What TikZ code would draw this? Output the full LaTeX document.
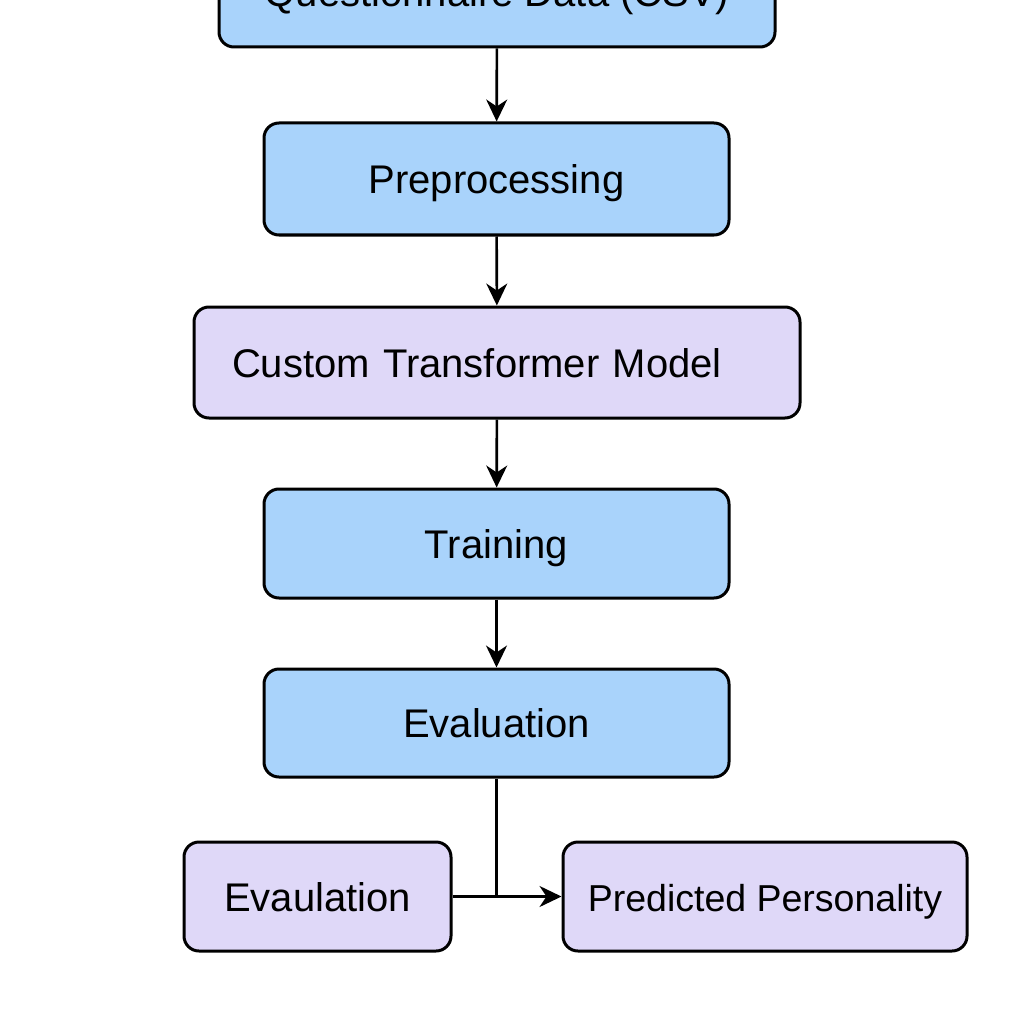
\documentclass[tikz,border=0pt]{standalone}
\usepackage{fontspec}
\setmainfont{Liberation Sans}
\usetikzlibrary{arrows.meta}
\definecolor{stageblue}{HTML}{A9D3FB}
\definecolor{stagelilac}{HTML}{DFD8F8}
\tikzset{%
    stage/.style={%
        draw=black, line width=3pt, rounded corners=15pt,
        fill=stageblue, inner sep=0pt,
        font=\fontsize{40}{48}\selectfont,
        text height=29pt, text depth=0pt,
        minimum width=#1, minimum height=110pt
    },
    lilac/.style={fill=stagelilac},
    flow/.style={line width=2.6pt, -{Stealth[length=22pt,width=21pt,inset=7pt]}}
}
\begin{document}
\begin{tikzpicture}[x=1pt,y=-1pt]
\clip (0,0) rectangle (1024,1024);
\fill[white] (0,0) rectangle (1024,1024);
%\draw [help lines] (0,0) grid (1024,1024);
\node[stage=556pt] (D0) at (497,-8) {Questionnaire Data (CSV)};
\node[stage=465pt, minimum height=112pt] (D1) at (496.5,179) {Preprocessing};
\node[stage=606pt, lilac, text width=530pt, inner xsep=38pt, align=left, minimum height=111pt] (D2) at (497,362.5) {Custom Transformer Model};
\node[stage=465pt, minimum height=109pt] (D3) at (496.5,543.5) {Training};
\node[stage=465pt, minimum height=108pt] (D4) at (496.5,723) {Evaluation};

\node[stage=267pt, lilac, minimum height=109pt] (E0) at (317.5,896.5) {Evaulation};
\node[stage=404pt, lilac, minimum height=109pt, font=\fontsize{37.5}{45}\selectfont] (E1) at (765,896.5) {Predicted Personality};

\coordinate (J) at (D4.south |- E0.east);

\path[flow]

% data to preprocessing
(D0) edge (D1)

% preprocessing to model
(D1) edge (D2)

% model to training
(D2) edge (D3)

% training to evaluation
(D3) edge (D4)

% evaulation to prediction
(E0) edge (E1)
;

% evaluation down to the join
\draw[line width=2.6pt] (D4.south) -- (J);
\end{tikzpicture}
\end{document}
